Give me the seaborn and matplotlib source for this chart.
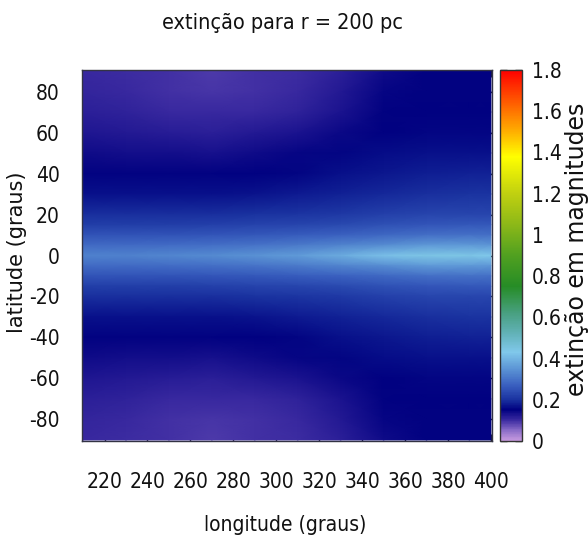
import numpy as np
import matplotlib
matplotlib.use("Agg")
import matplotlib.pyplot as plt
import seaborn as sns
from matplotlib import font_manager as fm
from matplotlib.colors import LinearSegmentedColormap

sns.set_theme(style="white")
plt.rcParams["font.family"] = ["Liberation Sans", "DejaVu Sans"]
plt.rcParams["axes.unicode_minus"] = False

# pick a condensed face if one is installed (gnuplot used a narrow font)
narrow_file = None
for f in fm.fontManager.ttflist:
    key = (f.fname + " " + f.name + " " + str(f.stretch)).lower()
    if ("condensed" in key or "narrow" in key) and f.style == "normal" \
            and f.weight in (400, "normal", "regular") \
            and "semi" not in key and "extra" not in key:
        narrow_file = f.fname
        break


def nfont(size):
    if narrow_file:
        return fm.FontProperties(fname=narrow_file, size=size)
    return fm.FontProperties(family=["Liberation Sans", "DejaVu Sans"], size=size * 0.85)


# grid
longitudes = [210, 230, 250, 270, 290, 310, 330, 350, 370, 390, 400]
latitudes = [90, 80, 70, 60, 50, 40, 30, 20, 15, 10, 5, 0,
             -5, -10, -15, -20, -30, -40, -50, -60, -70, -80, -90]
extinction = [
    [0.105, 0.100, 0.095, 0.090, 0.095, 0.100, 0.115, 0.140, 0.150, 0.150, 0.150],
    [0.108, 0.103, 0.098, 0.094, 0.098, 0.104, 0.120, 0.145, 0.150, 0.150, 0.150],
    [0.115, 0.110, 0.105, 0.102, 0.105, 0.112, 0.128, 0.148, 0.152, 0.152, 0.152],
    [0.125, 0.122, 0.118, 0.116, 0.120, 0.128, 0.143, 0.153, 0.157, 0.158, 0.158],
    [0.138, 0.136, 0.134, 0.133, 0.138, 0.145, 0.155, 0.162, 0.167, 0.168, 0.168],
    [0.150, 0.150, 0.150, 0.150, 0.153, 0.158, 0.167, 0.175, 0.182, 0.184, 0.184],
    [0.168, 0.168, 0.168, 0.168, 0.171, 0.176, 0.185, 0.193, 0.200, 0.202, 0.202],
    [0.198, 0.198, 0.199, 0.200, 0.203, 0.207, 0.214, 0.222, 0.230, 0.232, 0.232],
    [0.220, 0.220, 0.221, 0.222, 0.225, 0.230, 0.238, 0.247, 0.255, 0.257, 0.257],
    [0.250, 0.250, 0.252, 0.254, 0.258, 0.264, 0.273, 0.284, 0.294, 0.296, 0.294],
    [0.285, 0.287, 0.290, 0.293, 0.300, 0.310, 0.324, 0.341, 0.356, 0.358, 0.355],
    [0.320, 0.323, 0.328, 0.335, 0.345, 0.360, 0.385, 0.415, 0.440, 0.440, 0.430],
    [0.285, 0.287, 0.290, 0.293, 0.300, 0.310, 0.324, 0.341, 0.356, 0.358, 0.355],
    [0.250, 0.250, 0.252, 0.254, 0.258, 0.264, 0.273, 0.284, 0.294, 0.296, 0.294],
    [0.220, 0.220, 0.221, 0.222, 0.225, 0.230, 0.238, 0.247, 0.255, 0.257, 0.257],
    [0.198, 0.198, 0.199, 0.200, 0.203, 0.207, 0.214, 0.222, 0.230, 0.232, 0.232],
    [0.168, 0.168, 0.168, 0.168, 0.171, 0.176, 0.185, 0.193, 0.200, 0.202, 0.202],
    [0.150, 0.150, 0.150, 0.150, 0.153, 0.158, 0.167, 0.175, 0.182, 0.184, 0.184],
    [0.138, 0.136, 0.134, 0.133, 0.138, 0.145, 0.155, 0.162, 0.167, 0.168, 0.168],
    [0.125, 0.122, 0.118, 0.116, 0.120, 0.128, 0.143, 0.153, 0.157, 0.158, 0.158],
    [0.115, 0.110, 0.105, 0.102, 0.105, 0.112, 0.128, 0.148, 0.152, 0.152, 0.152],
    [0.108, 0.103, 0.098, 0.094, 0.098, 0.104, 0.120, 0.145, 0.150, 0.150, 0.150],
    [0.105, 0.100, 0.095, 0.090, 0.095, 0.100, 0.115, 0.140, 0.150, 0.150, 0.150],
]

x_ticks = [220, 240, 260, 280, 300, 320, 340, 360, 380, 400]
y_ticks = [80, 60, 40, 20, 0, -20, -40, -60, -80]
cb_ticks = [0, 0.2, 0.4, 0.6, 0.8, 1.0, 1.2, 1.4, 1.6, 1.8]
cb_labels = ["0", "0.2", "0.4", "0.6", "0.8", "1", "1.2", "1.4", "1.6", "1.8"]

# gnuplot-like palette
pal_vals = [0.0, 0.05, 0.10, 0.15, 0.20, 0.27, 0.35, 0.43, 0.52, 0.62,
            0.75, 0.90, 1.05, 1.20, 1.38, 1.50, 1.62, 1.80]
pal_cols = ["#c89be0", "#8a6cc8", "#3a2aa0", "#000080", "#1a32a0", "#3a60c0",
            "#5c95d5", "#80c8eb", "#62b2b8", "#48a080", "#268c26", "#50a020",
            "#8cb818", "#c0d010", "#ffff00", "#ffb000", "#ff6a00", "#ff0000"]
vmax = 1.8
cmap = LinearSegmentedColormap.from_list(
    "ext", list(zip([v / vmax for v in pal_vals], pal_cols)), N=512)

W, H = 588, 544
fig = plt.figure(figsize=(W / 100, H / 100), dpi=100)
ax = fig.add_axes([82 / W, 1 - 441 / H, 410 / W, 371 / H])
cax = fig.add_axes([500 / W, 1 - 441 / H, 22 / W, 371 / H])

lon, lat = np.meshgrid(longitudes, latitudes)
mesh = ax.pcolormesh(lon, lat, np.array(extinction), shading="gouraud",
                     cmap=cmap, vmin=0, vmax=vmax)
ax.set_xlim(209.5, 400.5)
ax.set_ylim(-90.5, 90.5)
ax.set_xticks(x_ticks)
ax.set_yticks(y_ticks)
ax.tick_params(axis="x", direction="in", top=True, bottom=True, length=5,
               width=1, color="#222222", pad=22)
ax.tick_params(axis="y", direction="in", left=True, right=True, length=5,
               width=1, color="#222222", pad=16)
for lab in ax.get_xticklabels() + ax.get_yticklabels():
    lab.set_fontproperties(nfont(15))
    lab.set_color("#111111")
for s in ax.spines.values():
    s.set_color("#333344")
    s.set_linewidth(1)

cb = fig.colorbar(mesh, cax=cax, ticks=cb_ticks)
cb.ax.set_yticklabels(cb_labels)
cax.tick_params(direction="in", left=True, right=True, length=5, width=1,
                color="#222222", pad=7)
for lab in cax.get_yticklabels():
    lab.set_fontproperties(nfont(15))
    lab.set_color("#111111")
cb.outline.set_edgecolor("#333333")
cb.outline.set_linewidth(1)

fig.text(282 / W, 1 - 23 / H, "extinção para r = 200 pc", ha="center",
         va="center", fontproperties=nfont(15.5), color="#111111")
fig.text(285 / W, 1 - 525 / H, "longitude (graus)", ha="center",
         va="center", fontproperties=nfont(15), color="#111111")
fig.text(17 / W, 1 - 252 / H, "latitude (graus)", rotation=90, ha="center",
         va="center", fontsize=15, family=["DejaVu Sans"], color="#111111")
fig.text(577 / W, 1 - 249 / H, "extinção em magnitudes", rotation=90,
         ha="center", va="center", fontsize=17, family=["DejaVu Sans"],
         color="#111111")

fig.savefig("out.png", dpi=100)
